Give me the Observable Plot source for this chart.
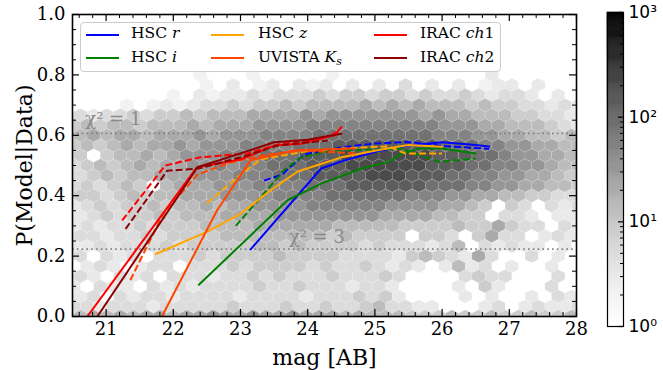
<!DOCTYPE html>
<html><head><meta charset="utf-8">
<script src="https://cdn.jsdelivr.net/npm/d3@7"></script>
<script src="https://cdn.jsdelivr.net/npm/@observablehq/plot@0.6"></script>
<style>
body{margin:0;background:#fff;}
#wrap{position:relative;width:663px;height:370px;overflow:hidden;background:#fff;}
#main{position:absolute;left:0;top:0;}
#cbar{position:absolute;left:590px;top:0;}
#legend{position:absolute;left:80px;top:22px;width:421px;height:50px;box-sizing:border-box;border:1px solid #cccccc;border-radius:4px;background:rgba(255,255,255,0.85);font-family:"DejaVu Serif";font-size:15.5px;color:#000;}
.li{position:absolute;white-space:nowrap;line-height:1;}
.ls{position:absolute;height:0;border-top-width:2px;border-top-style:solid;width:33px;}
.sub{font-size:0.7em;position:relative;top:0.3em;}
</style></head><body>
<div id="wrap"><div id="main"></div><div id="cbar"></div><div id="legend"></div></div>
<script>
// ---------- axes / ticks ----------
const xTicks = [21, 22, 23, 24, 25, 26, 27, 28];
const yTicks = [0, 0.2, 0.4, 0.6, 0.8, 1.0];
const cbTicks = [1, 10, 100, 1000];
const cbTickLabels = ["10⁰", "10¹", "10²", "10³"];

// chi^2 reference levels, P = exp(-chi2/2)
const chi2Values = [1, 3];
const chi2Labels = ["χ² = 1", "χ² = 3"];
const chi2LabelMag = [20.69, 23.72];
const chi2LabelP = [0.654, 0.263];

// ---------- series ----------
const seriesNames = ["HSC r", "HSC i", "HSC z", "UVISTA Ks", "IRAC ch1", "IRAC ch2"];
const seriesLegendHTML = ["HSC <i>r</i>", "HSC <i>i</i>", "HSC <i>z</i>", "UVISTA <i>K</i><span class='sub'><i>s</i></span>", "IRAC <i>ch</i>1", "IRAC <i>ch</i>2"];
const seriesColors = ["#0000ff", "#008000", "#ffa500", "#ff4500", "#ff0000", "#8b0000"];

const hscR_solid_mag = [23.15, 24.2, 24.55, 25.05, 25.5, 26.0, 26.5, 26.7];
const hscR_solid_p   = [0.222, 0.49, 0.517, 0.548, 0.566, 0.577, 0.568, 0.563];
const hscR_dash_mag  = [23.35, 23.62, 23.95, 24.5, 25.0, 25.5, 26.0, 26.7];
const hscR_dash_p    = [0.45, 0.47, 0.537, 0.56, 0.573, 0.578, 0.565, 0.555];

const hscI_solid_mag = [22.38, 23.7, 24.2, 24.8, 25.2, 25.4, 25.65, 26.0, 26.5];
const hscI_solid_p   = [0.105, 0.385, 0.44, 0.49, 0.512, 0.54, 0.556, 0.556, 0.54];
const hscI_dash_mag  = [22.93, 23.4, 23.65, 23.9, 24.4, 25.0, 25.4, 25.6, 25.95, 26.5];
const hscI_dash_p    = [0.30, 0.42, 0.485, 0.527, 0.55, 0.553, 0.556, 0.54, 0.512, 0.523];

const hscZ_solid_mag = [21.74, 22.5, 23.0, 23.4, 23.85, 24.5, 25.1, 25.5, 26.0];
const hscZ_solid_p   = [0.207, 0.28, 0.34, 0.41, 0.48, 0.527, 0.553, 0.568, 0.562];
const hscZ_dash_mag  = [22.5, 22.95, 23.3, 24.0, 24.8, 25.2, 25.45, 26.0];
const hscZ_dash_p    = [0.375, 0.46, 0.52, 0.548, 0.56, 0.563, 0.54, 0.54];

const ks_solid_mag = [21.83, 22.65, 23.15, 23.8, 24.7];
const ks_solid_p   = [0.0, 0.351, 0.517, 0.55, 0.556];
const ks_dash_mag  = [21.36, 21.85, 22.36, 22.85, 23.36, 23.9, 24.7];
const ks_dash_p    = [0.12, 0.34, 0.47, 0.51, 0.535, 0.55, 0.54];

const ch1_solid_mag = [20.72, 22.35, 23.0, 23.5, 23.9, 24.4, 24.5];
const ch1_solid_p   = [0.0, 0.494, 0.52, 0.566, 0.572, 0.60, 0.627];
const ch1_dash_mag  = [21.24, 21.88, 22.4, 23.1, 23.6, 24.2, 24.45];
const ch1_dash_p    = [0.318, 0.50, 0.527, 0.54, 0.572, 0.588, 0.612];

const ch2_solid_mag = [20.87, 22.36, 23.0, 23.5, 24.0, 24.5];
const ch2_solid_p   = [0.0, 0.494, 0.54, 0.577, 0.585, 0.605];
const ch2_dash_mag  = [21.29, 21.91, 22.36, 23.1, 23.55, 24.3];
const ch2_dash_p    = [0.29, 0.483, 0.489, 0.533, 0.566, 0.583];

// ---------- hexbin background (counts per cell) ----------
// grid: even rows centred at hexX0 + i*hexDX, odd rows shifted by hexDX/2; row k at P = k*hexDY
const hexX0 = 20.42, hexDX = 0.1975, hexDY = 1 / 30;
const hexLevelCounts = {"1": 2, "2": 3, "3": 5, "4": 8, "5": 13, "6": 20, "7": 32, "8": 50, "9": 80, "a": 130, "b": 200, "c": 320};
const hexRows = [ // top row (P = 1) first, bottom row (P = 0) last
  "........................................",
  "........................................",
  "........................................",
  "........................................",
  "........................................",
  "........................................",
  "..........1...1.....1...........2.......",
  "..........1.2.12.212.2.2.3.2.2.122.2....",
  "........1.21223233343443443433432332.2..",
  "....1.121233434454555565656555454433232.",
  "2323343445455566667677777776766555443322",
  "4545545556566677778888888888777665554323",
  "5565665666767778888999999999888776655454",
  "45456566767778888999aaaaaaaa999887766554",
  "44.455656777888999aaababbbbbaaa998776655",
  "345456566778788999aaabbbbbbaaa9988776554",
  "4345455666777888999aaaabbbaaa99887766545",
  "343454.56667778888999aaaaaa9998877665544",
  "344345455666777788889999998887766554433 2".replace(" ", ""),
  "23434454556566777788888877776654.43.323.",
  "3234344545556666777777776666554 54.332.22".replace(" 5", ""),
  "232334344455556666665555544445446433.323.".slice(0, 40),
  "23323343444455555555454444.443.4633.2322",
  "223233343444445545444434333235.32322.2.2",
  "23.323.33343444454444333324543263..3.2..",
  ".232.233.333434444343343232.2523.2..2...",
  "232.323.333233434333433343....3433...3..",
  "2.322.3232333343343332332....2.42...3...",
  "323.3233233332333323334342....2.2..2.32.",
  "3323332333334333433433453322...23.23223..".slice(0, 40),
  "5565656656676676676665655544454454454454"
];

const cells = [];
hexRows.forEach((row, idx) => {
  const k = hexRows.length - 1 - idx;
  const off = (k % 2) ? hexDX / 2 : 0;
  for (let i = 0; i < row.length; i++) {
    const c = row[i];
    if (!(c in hexLevelCounts)) continue;
    cells.push({mag: hexX0 + off + i * hexDX, p: k * hexDY, count: hexLevelCounts[c]});
  }
});

// ---------- layout ----------
const W = 590, H = 370, ML = 72, MR = 14, MT = 14, MB = 54;
const plotW = W - ML - MR, plotH = H - MT - MB;
const xDomain = [20.5, 28], yDomain = [0, 1];
const pxPerMag = plotW / (xDomain[1] - xDomain[0]);
const pxPerP = plotH / (yDomain[1] - yDomain[0]);
const hexHalfW = hexDX * pxPerMag / 2;
const hexHalfV = 2 * hexDY * pxPerP / 3;
const hexSymbol = {
  draw(ctx) {
    const hw = hexHalfW, hv = hexHalfV, hs = hexHalfV / 2;
    ctx.moveTo(0, -hv); ctx.lineTo(hw, -hs); ctx.lineTo(hw, hs);
    ctx.lineTo(0, hv); ctx.lineTo(-hw, hs); ctx.lineTo(-hw, -hs); ctx.closePath();
  }
};

function pts(mag, p) { return mag.map((m, i) => ({mag: m, p: p[i]})); }
const seriesData = [
  [pts(hscR_solid_mag, hscR_solid_p), pts(hscR_dash_mag, hscR_dash_p)],
  [pts(hscI_solid_mag, hscI_solid_p), pts(hscI_dash_mag, hscI_dash_p)],
  [pts(hscZ_solid_mag, hscZ_solid_p), pts(hscZ_dash_mag, hscZ_dash_p)],
  [pts(ks_solid_mag, ks_solid_p), pts(ks_dash_mag, ks_dash_p)],
  [pts(ch1_solid_mag, ch1_solid_p), pts(ch1_dash_mag, ch1_dash_p)],
  [pts(ch2_solid_mag, ch2_solid_p), pts(ch2_dash_mag, ch2_dash_p)]
];

const xMinor = d3.range(20.6, 28.001, 0.2).filter(v => Math.abs(v - Math.round(v)) > 1e-6);
const yMinor = d3.range(0.05, 1.0, 0.05).filter(v => Math.abs(v * 5 - Math.round(v * 5)) > 1e-6);
const majLen = 7, minLen = 4;

const lineMarks = [];
seriesData.forEach((pair, s) => {
  lineMarks.push(Plot.line(pair[0], {x: "mag", y: "p", stroke: seriesColors[s], strokeWidth: 2, clip: true}));
  lineMarks.push(Plot.line(pair[1], {x: "mag", y: "p", stroke: seriesColors[s], strokeWidth: 2, strokeDasharray: "7,3", strokeLinecap: "butt", clip: true}));
});

const chiLabelData = chi2Labels.map((t, i) => ({t, mag: chi2LabelMag[i], p: chi2LabelP[i]}));

const main = Plot.plot({
  width: W, height: H, marginLeft: ML, marginRight: MR, marginTop: MT, marginBottom: MB,
  style: {fontFamily: "DejaVu Serif", fontSize: "18px", background: "transparent", color: "black"},
  x: {domain: xDomain, label: null},
  y: {domain: yDomain, label: null},
  color: {type: "log", domain: [1, 1000], scheme: "greys"},
  marks: [
    Plot.dot(cells, {x: "mag", y: "p", fill: "count", symbol: hexSymbol, r: 7, stroke: "white", strokeOpacity: 0.2, strokeWidth: 0.6, clip: true}),
    Plot.ruleY(chi2Values.map(c => Math.exp(-c / 2)), {stroke: "#808080", strokeWidth: 1.6, strokeDasharray: "1.6,3.2"}),
    Plot.text(chiLabelData, {x: "mag", y: "p", text: "t", textAnchor: "start", fill: "#8a8a8a", fontSize: 18, fontFamily: "DejaVu Serif"}),
    ...lineMarks,
    Plot.tickX(xTicks, {x: d => d, insetTop: plotH - majLen, stroke: "black", strokeWidth: 1.2}),
    Plot.tickX(xTicks, {x: d => d, insetBottom: plotH - majLen, stroke: "black", strokeWidth: 1.2}),
    Plot.tickX(xMinor, {x: d => d, insetTop: plotH - minLen, stroke: "black", strokeWidth: 1}),
    Plot.tickX(xMinor, {x: d => d, insetBottom: plotH - minLen, stroke: "black", strokeWidth: 1}),
    Plot.tickY(yTicks, {y: d => d, insetRight: plotW - majLen, stroke: "black", strokeWidth: 1.2}),
    Plot.tickY(yTicks, {y: d => d, insetLeft: plotW - majLen, stroke: "black", strokeWidth: 1.2}),
    Plot.tickY(yMinor, {y: d => d, insetRight: plotW - minLen, stroke: "black", strokeWidth: 1}),
    Plot.tickY(yMinor, {y: d => d, insetLeft: plotW - minLen, stroke: "black", strokeWidth: 1}),
    Plot.frame({stroke: "black", strokeWidth: 1.6}),
    Plot.axisX({ticks: xTicks, tickSize: 0, tickPadding: 6, tickFormat: d => String(d), label: null}),
    Plot.axisY({ticks: yTicks, tickSize: 0, tickPadding: 7, tickFormat: d3.format(".1f"), label: null}),
    Plot.text(["mag [AB]"], {frameAnchor: "bottom", dy: 41, lineAnchor: "middle", textAnchor: "middle", text: d => d, fontSize: 22, fontFamily: "DejaVu Serif"}),
    Plot.text(["P(Model|Data)"], {frameAnchor: "left", dx: -48, rotate: -90, textAnchor: "middle", lineAnchor: "middle", text: d => d, fontSize: 22, fontFamily: "DejaVu Serif"})
  ]
});
document.getElementById("main").appendChild(main);

// ---------- colorbar ----------
const rampSteps = d3.range(0, 300).map(i => [Math.pow(10, 3 * i / 300), Math.pow(10, 3 * (i + 1) / 300)]);
const cbMinor = [];
[1, 10, 100].forEach(dec => { for (let m = 2; m <= 9; m++) cbMinor.push(dec * m); });
const cbW = 73, cbML = 17, cbMR = 40, cbMT = 12, cbMB = 44;
const cbPlotW = cbW - cbML - cbMR;
const cbar = Plot.plot({
  width: cbW, height: H, marginLeft: cbML, marginRight: cbMR, marginTop: cbMT, marginBottom: cbMB,
  style: {fontFamily: "DejaVu Sans", fontSize: "17px", background: "transparent", color: "black", overflow: "visible"},
  x: {domain: [0, 1], axis: null},
  y: {type: "log", domain: [1, 1000], label: null},
  color: {type: "log", domain: [1, 1000], scheme: "greys"},
  marks: [
    Plot.rect(rampSteps, {x1: 0, x2: 1, y1: d => d[0], y2: d => d[1], fill: d => Math.sqrt(d[0] * d[1]), stroke: d => Math.sqrt(d[0] * d[1]), strokeWidth: 0.6}),
    Plot.tickY(cbMinor, {y: d => d, insetLeft: cbPlotW - 3, stroke: "black", strokeWidth: 1}),
    Plot.tickY(cbTicks, {y: d => d, insetLeft: cbPlotW - 5, stroke: "black", strokeWidth: 1.2}),
    Plot.frame({stroke: "black", strokeWidth: 1.2}),
    Plot.axisY({anchor: "right", ticks: cbTicks, tickSize: 0, tickPadding: 5, tickFormat: d => cbTickLabels[cbTicks.indexOf(d)], label: null})
  ]
});
document.getElementById("cbar").appendChild(cbar);

// ---------- legend ----------
const legend = document.getElementById("legend");
const colLine = [5, 130, 293], colText = [50, 177, 339], rowMid = [11.5, 35];
seriesNames.forEach((name, s) => {
  const col = Math.floor(s / 2), row = s % 2;
  const ln = document.createElement("div");
  ln.className = "ls";
  ln.style.left = colLine[col] + "px";
  ln.style.top = (rowMid[row] - 1) + "px";
  ln.style.borderTopColor = seriesColors[s];
  legend.appendChild(ln);
  const tx = document.createElement("div");
  tx.className = "li";
  tx.style.left = colText[col] + "px";
  tx.style.top = (rowMid[row] - 8.5) + "px";
  tx.innerHTML = seriesLegendHTML[s];
  tx.title = name;
  legend.appendChild(tx);
});
</script>
</body></html>
